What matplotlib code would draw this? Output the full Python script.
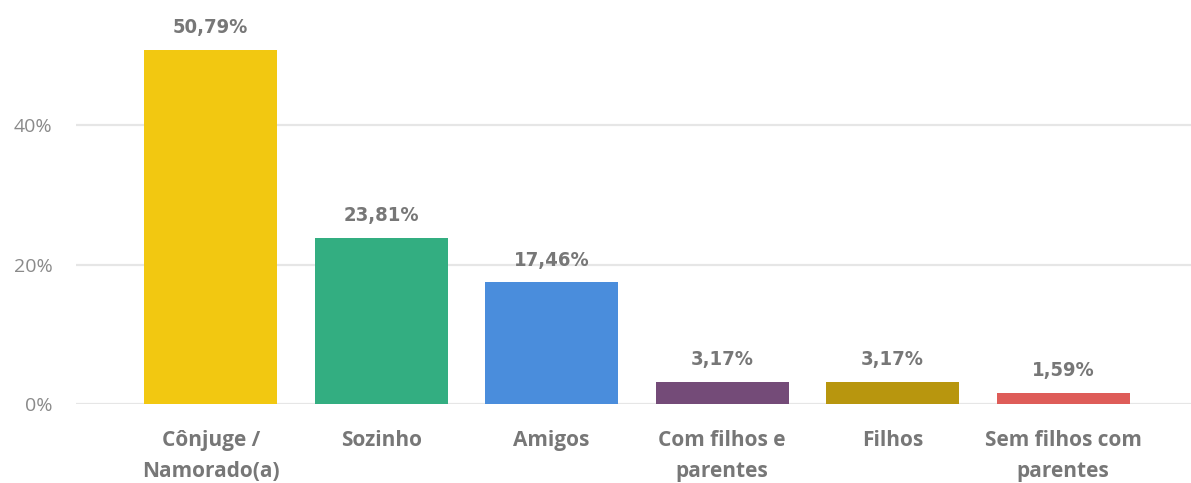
#!/usr/bin/env python3
"""Bar chart: com quem mora."""

import matplotlib
matplotlib.use("Agg")
import matplotlib.pyplot as plt
from matplotlib.ticker import FuncFormatter

categories = ["Cônjuge /\nNamorado(a)", "Sozinho", "Amigos",
              "Com filhos e\nparentes", "Filhos", "Sem filhos com\nparentes"]
values = [50.79, 23.81, 17.46, 3.17, 3.17, 1.59]
value_labels = ["50,79%", "23,81%", "17,46%", "3,17%", "3,17%", "1,59%"]
yticks = [0, 20, 40]
colors = ["#F2C811", "#33AE81", "#4A8DDC", "#744B78", "#B8960E", "#DE5C58"]


def main():
    fig = plt.figure(figsize=(11.91, 4.83), dpi=100)
    ax = fig.add_axes([76 / 1191, 79 / 483, 1115 / 1191, 404 / 483])

    x = range(len(values))
    ax.bar(x, values, width=0.78, color=colors, zorder=2)

    for xi, v, lab in zip(x, values, value_labels):
        ax.annotate(lab, (xi, v), xytext=(0, 16), textcoords="offset points",
                    ha="center", va="center", fontsize=14.5, fontweight="bold",
                    color="#777777", family="DejaVu Sans", fontstretch="condensed")

    ax.set_xlim(-0.79, 5.75)
    ax.set_ylim(0, 58)
    ax.set_yticks(yticks)
    ax.yaxis.set_major_formatter(FuncFormatter(lambda v, p: f"{v:.0f}%"))
    ax.grid(axis="y", color="#E6E6E6", linewidth=1.6, zorder=0)
    ax.set_xticks(list(x))
    ax.set_xticklabels(categories, fontsize=15, fontweight="bold", color="#777777",
                       family="Open Sans", linespacing=1.6)
    for t in ax.get_yticklabels():
        t.set_fontsize(14)
        t.set_color("#8A8A8A")
        t.set_family("Open Sans")
    ax.tick_params(axis="x", length=0, pad=19)
    ax.tick_params(axis="y", length=0, pad=17)
    for s in ax.spines.values():
        s.set_visible(False)

    fig.savefig("out.png", dpi=100)
    plt.close(fig)


if __name__ == "__main__":
    main()
